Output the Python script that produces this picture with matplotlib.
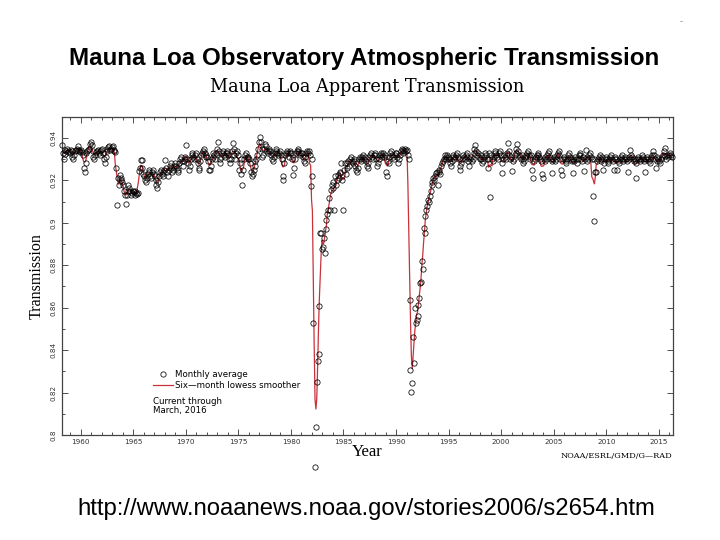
import numpy as np
import pandas as pd
import matplotlib
matplotlib.use("Agg")
import matplotlib.pyplot as plt
from matplotlib.ticker import MultipleLocator, FuncFormatter
from matplotlib.lines import Line2D

# Monthly average apparent transmission, in units of 1e-4 (9330 -> 0.9330).
# None = no observation for that month.
trans_1958_1969 = [  # starts March 1958
    9365, 9330, 9300, 9325, 9345, 9340, 9350, 9335, 9340, 9330,
    9345, 9340, 9310, 9300, 9320, 9340, 9345, 9350, 9360, 9345, 9340, 9335,
    9345, 9335, 9320, 9260, 9240, 9280, 9330, 9340, 9345, 9350, 9370, 9380,
    9365, 9340, 9310, 9300, 9320, 9335, 9340, 9345, 9330, 9320, 9340, 9345,
    9350, 9330, 9300, 9280, 9310, 9340, 9350, 9355, 9360, 9345, 9350, 9355,
    9360, 9345, 9340, 9335, 9260, 9085, 9210, 9177, 9226, 9210, 9200, 9190,
    9180, 9150, 9130, 9090, 9130, 9150, 9180, 9164, 9150, 9133, 9140, 9150,
    9145, 9130, 9150, 9140, 9135, 9140, 9243, 9260, 9295, 9298, 9259, 9230,
    9220, 9200, 9190, 9210, 9230, 9250, 9240, 9220, 9210, 9240, 9250, 9230,
    9220, 9200, 9180, 9164, 9190, 9220, 9240, 9250, 9230, 9220, 9240, 9250,
    9298, 9260, 9240, 9220, 9250, 9270, 9280, 9260, 9240, 9250, 9270, 9280,
    9270, 9260, 9240, 9250, 9280, 9300, 9310, 9290, 9270, 9290, 9310, 9300,
]
trans_1970_1979 = [
    9368, 9300, 9280, 9250, 9270, 9300, 9320, 9330, 9310, 9300, 9320, 9330,
    9300, 9280, 9260, 9250, 9290, 9320, 9330, 9340, 9350, 9330, 9310, 9320,
    9310, 9290, 9250, 9250, 9270, 9300, 9310, 9330, 9320, 9300, 9330, 9350,
    9380, 9340, 9300, 9280, 9310, 9330, 9340, 9320, 9310, 9330, 9340, 9330,
    9320, 9300, 9280, 9300, 9340, 9377, 9350, 9320, 9300, 9330, 9340, 9320,
    9250, 9280, 9300, 9230, 9180, 9250, 9300, 9320, 9330, 9310, 9300, 9310,
    9300, 9280, 9240, 9220, 9230, 9250, 9270, 9290, 9300, 9320, 9350, 9380,
    9405, 9380, 9350, 9310, 9320, 9350, 9370, 9360, 9340, 9330, 9340, 9350,
    9340, 9320, 9300, 9290, 9310, 9330, 9350, 9340, 9330, 9320, 9330, 9340,
    9320, 9300, 9220, 9200, 9280, 9320, 9330, 9340, 9330, 9310, 9330, 9340,
]
trans_1980_1989 = [
    9330, 9300, 9225, 9260, 9300, 9330, 9340, 9350, 9340, 9330, 9320, 9330,
    9330, 9310, 9290, 9280, 9310, 9330, 9340, 9330, 9340, 9320, 9175, 9220,
    9300, 8530, None, 7850, 8040, 8250, 8350, 8380, 8610, 8950, 8950, 8876,
    8886, 8928, 8860, 8970, 9014, 9040, 9060, 9117, 9060, 9156, 9180, 9165,
    9190, 9060, 9219, 9180, 9200, 9226, 9210, 9240, 9234, 9280, 9200, 9060,
    9250, 9280, 9230, 9260, 9280, 9290, 9270, 9300, 9310, 9290, 9280, 9300,
    9290, 9270, 9250, 9240, 9260, 9300, 9310, 9300, 9290, 9310, 9320, 9300,
    9310, 9290, 9270, 9260, 9280, 9310, 9320, 9330, 9310, 9300, 9320, 9330,
    9320, 9300, 9266, 9280, 9300, 9320, 9330, 9310, 9320, 9330, 9310, 9320,
    9240, 9220, 9290, 9280, 9310, 9330, 9340, 9320, 9310, 9300, 9320, 9330,
]
trans_1990_1999 = [
    9330, 9310, 9280, 9300, 9320, 9340, 9350, 9345, 9330, 9340, 9350, 9340,
    9345, 9320, 9300, 8637, 8307, 8204, 8247, 8464, 8340, 8600, 8527, 8542,
    8613, 8560, 8645, 8716, 8723, 8818, 8780, 8975, 8950, 9030, 9062, 9080,
    9109, 9100, 9125, 9150, 9180, 9190, 9211, 9200, 9220, 9235, 9240, 9180,
    9250, 9240, 9230, 9270, 9280, 9290, 9300, 9320, 9310, 9300, 9320, 9310,
    9300, 9280, 9270, 9290, 9310, 9320, 9300, 9310, 9320, 9330, 9310, 9300,
    9250, 9270, 9280, 9300, 9320, 9310, 9300, 9320, 9330, 9310, 9290, 9270,
    9300, 9310, 9290, 9300, 9330, 9350, 9368, 9340, 9320, 9330, 9310, 9300,
    9320, 9300, 9280, 9290, 9310, 9330, 9320, 9300, 9260, 9300, 9330, 9120,
    9320, 9300, 9290, 9310, 9330, 9340, 9320, 9310, 9300, 9330, 9340, 9320,
]
trans_2000_2009 = [
    9235, 9280, 9300, 9320, 9310, 9300, 9330, 9377, 9340, 9320, 9300, 9310,
    9243, 9290, 9300, 9320, 9330, 9350, 9369, 9340, 9320, 9310, 9300, 9320,
    9300, 9280, 9290, 9310, 9320, 9330, 9340, 9320, 9310, 9300, 9320, 9250,
    9210, 9290, 9300, 9310, 9320, 9330, 9320, 9310, 9300, 9290, 9230, 9210,
    9300, 9310, 9290, 9300, 9320, 9330, 9340, 9310, 9300, 9290, 9235, 9300,
    9310, 9290, 9300, 9320, 9330, 9338, 9320, 9300, 9250, 9226, 9300, 9310,
    9300, 9290, 9280, 9300, 9320, 9330, 9310, 9300, 9290, 9300, 9235, 9290,
    9310, 9300, 9280, 9300, 9320, 9330, 9320, 9300, 9290, 9310, 9243, 9300,
    9345, 9310, 9290, 9300, 9320, 9330, 9310, 9300, 9128, 9010, 9300, 9240,
    9240, 9290, 9300, 9310, 9320, 9300, 9290, 9310, 9250, 9280, 9300, 9310,
]
trans_2010_2016 = [  # ends March 2016
    9300, 9290, 9280, 9300, 9310, 9320, 9300, 9290, 9250, 9300, 9310, 9300,
    9250, 9290, 9280, 9300, 9310, 9320, 9300, 9290, 9300, 9310, 9300, 9290,
    9240, 9300, 9310, 9345, 9320, 9310, 9300, 9290, 9300, 9210, 9280, 9300,
    9310, 9300, 9290, 9300, 9320, 9310, 9300, 9290, 9240, 9300, 9310, 9300,
    9290, 9280, 9300, 9310, 9320, 9337, 9320, 9300, 9258, 9290, 9310, 9300,
    9290, 9280, 9300, 9310, 9320, 9340, 9353, 9314, 9300, 9320, 9310, 9320,
    9330, 9320, 9310,
]

# (first year, first month index 0-11, values)
segments = [
    (1958, 2, trans_1958_1969),
    (1970, 0, trans_1970_1979),
    (1980, 0, trans_1980_1989),
    (1990, 0, trans_1990_1999),
    (2000, 0, trans_2000_2009),
    (2010, 0, trans_2010_2016),
]

times, values = [], []
for year0, month0, vals in segments:
    n = len(vals)
    times.append(year0 + (month0 + np.arange(n) + 0.5) / 12.0)
    values.append(np.array([np.nan if v is None else v for v in vals], dtype=float) / 1e4)
t = np.concatenate(times)
trans = np.concatenate(values)

# six-month smoother of the monthly averages
smooth = pd.Series(trans).rolling(5, center=True, min_periods=1).mean().to_numpy()

W, H = 720, 540
fig = plt.figure(figsize=(W / 100, H / 100), dpi=100)
fig.patch.set_facecolor("white")
ax = fig.add_axes([61.7 / W, 1 - 435 / H, (673 - 61.7) / W, (435 - 116.7) / H])

ax.plot(t, smooth, color="#c8323a", lw=0.9, zorder=2)
ax.plot(t, trans, "o", mfc="none", mec="black", ms=3.8, mew=0.55,
        clip_on=False, zorder=3)

ax.set_xlim(1958.19, 2016.35)
ax.set_ylim(0.8, 0.95)
ax.xaxis.set_major_locator(MultipleLocator(5))
ax.xaxis.set_minor_locator(MultipleLocator(1))
ax.yaxis.set_major_locator(MultipleLocator(0.02))
ax.yaxis.set_minor_locator(MultipleLocator(0.01))
ax.yaxis.set_major_formatter(FuncFormatter(lambda v, p: "%g" % round(v, 3)))
ax.tick_params(which="both", direction="in", top=True, right=True,
               width=0.6, colors="#333333", labelsize=5.2)
ax.tick_params(which="major", length=4)
ax.tick_params(which="minor", length=2)
ax.tick_params(axis="x", pad=3)
ax.tick_params(axis="y", pad=4)
for lab in ax.get_yticklabels():
    lab.set_rotation(90)
    lab.set_va("center")
for s in ax.spines.values():
    s.set_color("#444444")
    s.set_linewidth(0.9)

handles = [
    Line2D([], [], ls="none", marker="o", mfc="none", mec="black", ms=3.8, mew=0.55),
    Line2D([], [], color="#c8323a", lw=0.9),
]
leg = ax.legend(handles, ["Monthly average", "Six\u2014month lowess smoother"],
                loc="upper left", bbox_to_anchor=(0.149, 0.205), frameon=False,
                fontsize=6.2, handlelength=2.3, handletextpad=0.3,
                labelspacing=0.25, borderpad=0, borderaxespad=0)
ax.text(0.149, 0.118, "Current through\nMarch, 2016", transform=ax.transAxes,
        fontsize=6.2, ha="left", va="top", linespacing=1.0)

fig.text(364 / W, 1 - 58 / H, "Mauna Loa Observatory Atmospheric Transmission",
         ha="center", va="center", fontsize=17.4, fontweight="bold",
         family="Liberation Sans")
fig.text(367.5 / W, 1 - 87 / H, "Mauna Loa Apparent Transmission",
         ha="center", va="center", fontsize=12.8, family="DejaVu Serif")
fig.text(36.5 / W, 1 - 276 / H, "Transmission", rotation=90, ha="center",
         va="center", fontsize=11.5, family="Liberation Serif")
fig.text(367.5 / W, 1 - 452 / H, "Year", ha="center", va="center",
         fontsize=12, family="Liberation Serif")
fig.text(672.7 / W, 1 - 455.7 / H, "NOAA/ESRL/GMD/G\u2014RAD", ha="right",
         va="center", fontsize=5.9, family="DejaVu Serif")
fig.text(366.5 / W, 1 - 509 / H,
         "http://www.noaanews.noaa.gov/stories2006/s2654.htm",
         ha="center", va="center", fontsize=17.2, family="Liberation Sans")
fig.text(681 / W, 1 - 22 / H, "-", ha="center", va="center", fontsize=6,
         color="#888888")

fig.savefig("out.png", dpi=100)
